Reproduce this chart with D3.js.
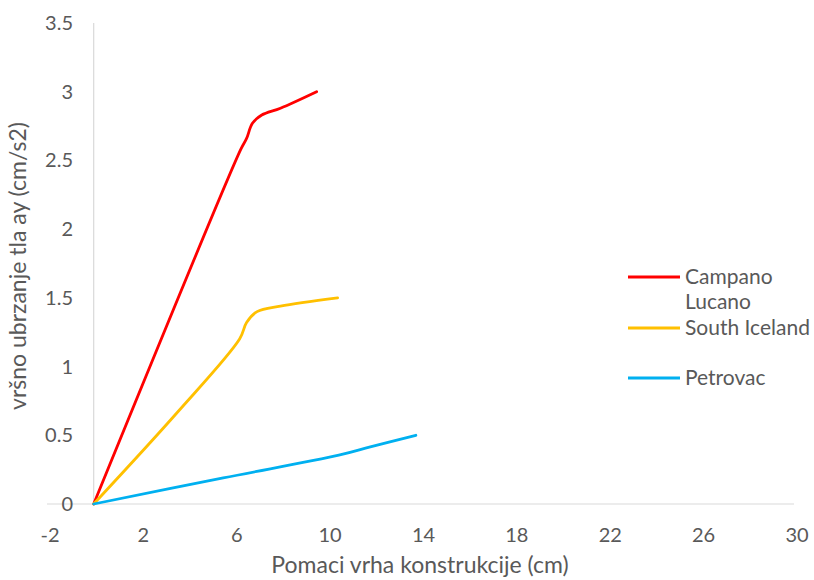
<!DOCTYPE html>
<html>
<head>
<meta charset="utf-8">
<script src="https://d3js.org/d3.v7.min.js"></script>
<style>
  body { margin: 0; background: #fff; }
  text { font-family: Lato, "Open Sans", sans-serif; fill: #595959; }
</style>
</head>
<body>
<svg width="814" height="580"></svg>
<script>
// x ticks and y ticks
var xTicks = [-2, 2, 6, 10, 14, 18, 22, 26, 30];
var yTicks = [0, 0.5, 1, 1.5, 2, 2.5, 3, 3.5];

// series
var seriesNames = ["Campano Lucano", "South Iceland", "Petrovac"];
var seriesColors = ["#ff0000", "#ffc000", "#00b0f0"];

var campanoX = [0, 6.3, 6.55, 6.8, 7.2, 8.0, 9.55];
var campanoY = [0, 2.58, 2.66, 2.77, 2.83, 2.88, 3.0];

var icelandX = [0, 3.55, 6.25, 6.55, 7.0, 8.0, 10.45];
var icelandY = [0, 0.66, 1.2, 1.32, 1.4, 1.44, 1.5];

var petrovacX = [0, 5.55, 10.5, 11.85, 13.8];
var petrovacY = [0, 0.19, 0.355, 0.415, 0.5];

var series = [
  campanoX.map((d, i) => ({x: d, y: campanoY[i]})),
  icelandX.map((d, i) => ({x: d, y: icelandY[i]})),
  petrovacX.map((d, i) => ({x: d, y: petrovacY[i]}))
];

var svg = d3.select("svg");

var x = d3.scaleLinear().domain([-2, 30]).range([47, 794]);
var y = d3.scaleLinear().domain([0, 3.5]).range([504, 23]);

// y axis line at x = 0
svg.append("line")
  .attr("x1", x(0)).attr("x2", x(0))
  .attr("y1", y(0)).attr("y2", y(3.5))
  .attr("stroke", "#d9d9d9").attr("stroke-width", 1.2);

// x axis line
svg.append("line")
  .attr("x1", x(-2)).attr("x2", x(30))
  .attr("y1", y(0)).attr("y2", y(0))
  .attr("stroke", "#d9d9d9").attr("stroke-width", 1.2);

// tick labels
svg.selectAll(".xt").data(xTicks).enter().append("text")
  .attr("class", "xt")
  .attr("x", d => x(d) + 3)
  .attr("y", 542)
  .attr("text-anchor", "middle")
  .style("font-size", "20px")
  .text(d => d);

svg.selectAll(".yt").data(yTicks).enter().append("text")
  .attr("class", "yt")
  .attr("x", 73)
  .attr("y", d => y(d) + 7)
  .attr("text-anchor", "end")
  .style("font-size", "20px")
  .text(d => d);

// axis titles
svg.append("text")
  .attr("x", 420).attr("y", 573)
  .attr("text-anchor", "middle")
  .style("font-size", "23px")
  .text("Pomaci vrha konstrukcije (cm)");

svg.append("text")
  .attr("transform", "translate(26,266) rotate(-90)")
  .attr("text-anchor", "middle")
  .style("font-size", "23px")
  .text("vršno ubrzanje tla ay (cm/s2)");

// lines
var line = d3.line()
  .x(d => x(d.x))
  .y(d => y(d.y))
  .curve(d3.curveCatmullRom.alpha(0.5));

svg.selectAll(".series").data(series).enter().append("path")
  .attr("class", "series")
  .attr("d", line)
  .attr("fill", "none")
  .attr("stroke", (d, i) => seriesColors[i])
  .attr("stroke-width", 2.8)
  .attr("stroke-linecap", "round");

// legend
var legendY = [277, 328, 378];
var legend = svg.selectAll(".leg").data(seriesNames).enter().append("g")
  .attr("class", "leg")
  .attr("transform", (d, i) => "translate(628," + legendY[i] + ")");

legend.append("line")
  .attr("x1", 0).attr("x2", 52)
  .attr("stroke", (d, i) => seriesColors[i])
  .attr("stroke-width", 2.8);

legend.append("text")
  .attr("x", 57)
  .attr("y", 7)
  .style("font-size", "21px")
  .each(function(d) {
    var words = d == "Campano Lucano" ? ["Campano", "Lucano"] : [d];
    var t = d3.select(this);
    words.forEach(function(w, j) {
      t.append("tspan").attr("x", 57).attr("dy", j ? 25 : 0).text(w);
    });
  });
</script>
</body>
</html>
